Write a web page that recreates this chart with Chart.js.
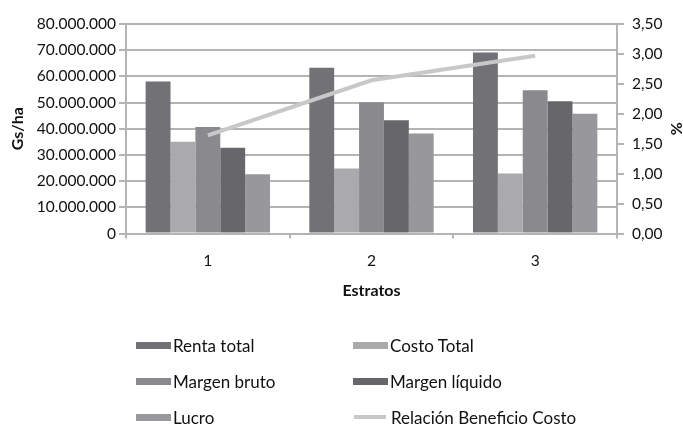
<!DOCTYPE html>
<html>
<head>
<meta charset="utf-8">
<script src="https://cdn.jsdelivr.net/npm/chart.js@4.4.1/dist/chart.umd.min.js"></script>
<style>
  html, body { margin: 0; padding: 0; background: #fff; }
  #wrap { position: relative; width: 683px; height: 424px; }
  #legend {
    position: absolute; left: 136px; top: 327px;
    display: grid; grid-template-columns: 217px 240px; grid-auto-rows: 36px;
    font-family: Lato, sans-serif; font-size: 17px; color: #111;
  }
  .item { display: flex; align-items: center; white-space: nowrap; }
  .sw { width: 35px; height: 7px; margin-right: 2px; }
  .ln { width: 32px; height: 4px; margin-right: 5px; margin-left: 1px; }
</style>
</head>
<body>
<div id="wrap">
  <canvas id="chart"></canvas>
  <div id="legend"></div>
</div>
<script>
const estratos = ["1", "2", "3"];
const rentaTotal = [58000000, 63300000, 69100000];
const costoTotal = [35000000, 24800000, 22900000];
const margenBruto = [40700000, 50100000, 54700000];
const margenLiquido = [32700000, 43200000, 50500000];
const lucro = [22600000, 38200000, 45700000];
const relacionBC = [1.64, 2.56, 2.97];

const gridColor = "#b4b4b4";
const tickColor = "#111";
const font = { family: "Lato", size: 15.5 };
const titleFont = { family: "Lato", size: 16, weight: "bold" };

const fmtMiles = (v) => String(Math.round(v)).replace(/\B(?=(\d{3})+(?!\d))/g, ".");
const fmtPct = (v) => v.toFixed(2).replace(".", ",");

const barSet = (label, data, color) => ({
  type: "bar", label, data, backgroundColor: color, yAxisID: "y",
  barPercentage: 1, categoryPercentage: 0.76, order: 2,
});

const chart = new Chart(document.getElementById("chart"), {
  data: {
    labels: estratos,
    datasets: [
      barSet("Renta total", rentaTotal, "#727276"),
      barSet("Costo Total", costoTotal, "#aaaaad"),
      barSet("Margen bruto", margenBruto, "#8a8a8e"),
      barSet("Margen líquido", margenLiquido, "#67676b"),
      barSet("Lucro", lucro, "#98989c"),
      {
        type: "line", label: "Relación Beneficio Costo", data: relacionBC, yAxisID: "y1",
        borderColor: "#c8c8c8", borderWidth: 4, pointRadius: 0, tension: 0, order: 1,
      },
    ],
  },
  options: {
    responsive: true,
    maintainAspectRatio: false,
    animation: false,
    layout: { padding: { left: 4, right: 0, top: 24, bottom: 119.5 } },
    plugins: { legend: { display: false }, tooltip: { enabled: false } },
    scales: {
      x: {
        grid: { drawOnChartArea: false, drawTicks: true, tickLength: 5, color: gridColor, lineWidth: 2 },
        border: { color: gridColor, width: 2 },
        ticks: { color: tickColor, font, padding: 13 },
        title: { display: true, text: "Estratos", color: tickColor, font: titleFont, padding: { top: 4, bottom: 4 } },
        afterFit: (s) => { s.height = 71; },
      },
      y: {
        position: "left", min: 0, max: 80000000,
        ticks: { stepSize: 10000000, color: tickColor, font, padding: 3, callback: (v) => fmtMiles(v) },
        grid: { color: gridColor, lineWidth: 2, tickLength: 7 },
        border: { color: gridColor, width: 2 },
        title: { display: true, text: "Gs/ha", color: tickColor, font: titleFont, padding: { top: 4, bottom: 4 } },
        afterFit: (s) => { s.width = 122; },
      },
      y1: {
        position: "right", min: 0, max: 3.5,
        ticks: { stepSize: 0.5, color: tickColor, font, padding: 8, callback: (v) => fmtPct(v) },
        grid: { drawOnChartArea: false, color: gridColor, lineWidth: 2, tickLength: 7 },
        border: { color: gridColor, width: 2 },
        title: { display: true, text: "%", color: tickColor, font: titleFont, padding: { top: -3, bottom: 0 } },
        afterFit: (s) => { s.width = 66; },
      },
    },
  },
});

// legend in two columns, like the original
const legendEl = document.getElementById("legend");
chart.data.datasets.forEach((ds) => {
  const item = document.createElement("div");
  item.className = "item";
  const sw = document.createElement("span");
  if (ds.type === "line") {
    sw.className = "ln";
    sw.style.background = ds.borderColor;
  } else {
    sw.className = "sw";
    sw.style.background = ds.backgroundColor;
  }
  item.appendChild(sw);
  item.appendChild(document.createTextNode(ds.label));
  legendEl.appendChild(item);
});
</script>
</body>
</html>
